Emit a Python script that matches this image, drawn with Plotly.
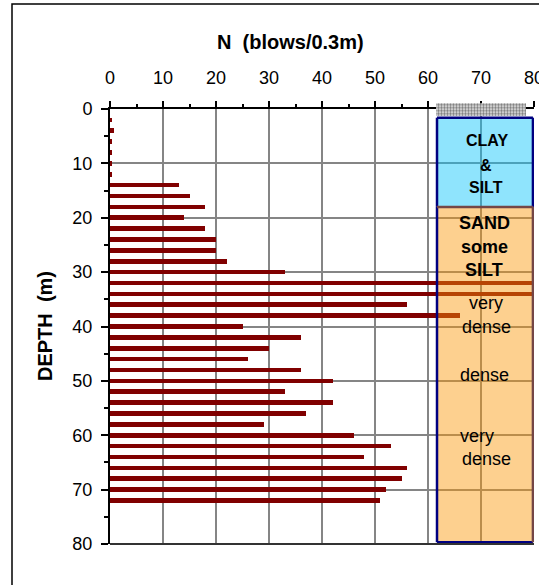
import plotly.graph_objects as go

# SPT blow counts vs depth
depths = [2, 4, 6, 8, 10, 12, 14, 16, 18, 20, 22, 24, 26, 28, 30, 32, 34, 36,
          38, 40, 42, 44, 46, 48, 50, 52, 54, 56, 58, 60, 62, 64, 66, 68, 70, 72]
n_values = [0.4, 0.8, 0.4, 0.4, 0.4, 0.4, 13, 15, 18, 14, 18, 20, 20, 22, 33, 100, 100, 56,
            66, 25, 36, 30, 26, 36, 42, 33, 42, 37, 29, 46, 53, 48, 56, 55, 52, 51]
x_ticks = [0, 10, 20, 30, 40, 50, 60, 70, 80]
y_ticks = [0, 10, 20, 30, 40, 50, 60, 70, 80]

# Soil profile column (depth ranges in m)
clay_top, clay_bottom = 1.6, 18
sand_top, sand_bottom = 18, 79.7
col_left, col_right = 61.7, 79.8
hatch_left, hatch_right = 61.5, 78.5

# Page geometry (pixels)
W, H = 539, 585
ML, MR, MT, MB = 110, 5, 100, 41
PH = H - MT - MB          # paper height
PW = W - ML - MR


def py(pix):
    """pixel row -> paper y"""
    return (H - MB - pix) / PH


def px(pix):
    """pixel column -> paper x"""
    return (pix - ML) / PW


FONT = "Arial, Liberation Sans, sans-serif"
NAVY = "#000080"
BROWN = "#744646"
GRID = "#858585"

fig = go.Figure()

fig.add_trace(go.Bar(
    x=n_values, y=depths, orientation="h", width=0.85,
    marker=dict(color="#800000", line_width=0),
    xaxis="x", yaxis="y", showlegend=False, hoverinfo="skip",
))

# hatched cap above the soil column
fig.add_trace(go.Bar(
    x=[hatch_right - hatch_left], base=[hatch_left], y=[0.5], width=1, orientation="h",
    marker=dict(color="#d9d9d9", line_width=0,
                pattern=dict(shape=".", size=3, solidity=0.5, fgcolor="#7a7a7a",
                             bgcolor="#e8e8e8", fillmode="replace")),
    xaxis="x2", yaxis="y2", showlegend=False, hoverinfo="skip",
))

shapes = [
    # soil layers (translucent so grid and bars show through)
    dict(type="rect", xref="x", yref="y", x0=col_left, x1=col_right, y0=clay_top, y1=clay_bottom,
         fillcolor="rgba(6,195,250,0.45)", line_width=0, layer="above"),
    dict(type="rect", xref="x", yref="y", x0=col_left, x1=col_right, y0=sand_top, y1=sand_bottom,
         fillcolor="rgba(251,150,6,0.45)", line_width=0, layer="above"),
    # clay box outline
    dict(type="line", xref="x", yref="y", x0=col_left, x1=col_left, y0=clay_top, y1=clay_bottom,
         line=dict(color=NAVY, width=2.5), layer="above"),
    dict(type="line", xref="x", yref="y", x0=col_left, x1=col_right, y0=clay_top, y1=clay_top,
         line=dict(color=NAVY, width=2.5), layer="above"),
    dict(type="line", xref="x", yref="y", x0=col_right, x1=col_right, y0=clay_top, y1=clay_bottom,
         line=dict(color=NAVY, width=2.5), layer="above"),
    # sand box outline
    dict(type="line", xref="x", yref="y", x0=col_left, x1=col_left, y0=sand_top, y1=sand_bottom,
         line=dict(color=NAVY, width=2.5), layer="above"),
    dict(type="line", xref="x", yref="y", x0=col_left, x1=col_right, y0=sand_bottom, y1=sand_bottom,
         line=dict(color=NAVY, width=2.5), layer="above"),
    dict(type="line", xref="x", yref="y", x0=col_left, x1=col_right, y0=sand_top, y1=sand_top,
         line=dict(color=BROWN, width=2.5), layer="above"),
    dict(type="line", xref="x", yref="y", x0=col_right, x1=col_right, y0=sand_top, y1=sand_bottom,
         line=dict(color=BROWN, width=2.5), layer="above"),
    # bottom edge of plot area
    dict(type="line", xref="paper", yref="paper", x0=0, x1=1, y0=0, y1=0,
         line=dict(color="#333333", width=2), layer="above"),
    # outer chart frame
    dict(type="rect", xref="paper", yref="paper", x0=px(12), x1=px(600), y0=py(650), y1=py(4),
         line=dict(color="black", width=1.5), fillcolor="rgba(0,0,0,0)", layer="above"),
]

annotations = [
    dict(text="<b>N\u00a0 (blows/0.3m)</b>", xref="paper", yref="paper", x=px(290), y=py(42),
         showarrow=False, font=dict(family=FONT, size=20, color="black"),
         xanchor="center", yanchor="middle"),
    dict(text="<b>DEPTH\u00a0 (m)</b>", xref="paper", yref="paper", x=px(45), y=py(326),
         showarrow=False, textangle=-90, font=dict(family=FONT, size=20, color="black"),
         xanchor="center", yanchor="middle"),
]

# soil description labels: (text, x, depth, size, bold)
soil_labels = [
    ("CLAY", 71.1, 5.8, 16, True), ("&", 71.0, 10.3, 16, True), ("SILT", 71.0, 14.4, 16, True),
    ("SAND", 70.7, 20.9, 18, True), ("some", 70.6, 25.4, 18, True), ("SILT", 70.6, 29.7, 18, True),
    ("very", 71.0, 35.7, 18, False), ("dense", 71.0, 40.0, 18, False),
    ("dense", 70.6, 48.9, 18, False),
    ("very", 69.3, 60.2, 18, False), ("dense", 71.0, 64.3, 18, False),
]
for txt, xv, dv, sz, bold in soil_labels:
    annotations.append(dict(
        text=f"<b>{txt}</b>" if bold else txt, xref="x", yref="y", x=xv, y=dv,
        showarrow=False, font=dict(family=FONT, size=sz, color="black"),
        xanchor="center", yanchor="middle"))

fig.update_layout(
    width=W, height=H,
    margin=dict(l=ML, r=MR, t=MT, b=MB, pad=0, autoexpand=False),
    paper_bgcolor="white", plot_bgcolor="rgba(0,0,0,0)",
    showlegend=False, bargap=0,
    font=dict(family=FONT, color="black"),
    xaxis=dict(
        domain=[0, 1], range=[0, 80], side="top", anchor="y", automargin=False,
        tickmode="array", tickvals=x_ticks, ticktext=[str(v) for v in x_ticks],
        showgrid=True, gridcolor=GRID, gridwidth=1.5, zeroline=False,
        showline=True, linecolor="black", linewidth=1.5,
        ticks="outside", ticklen=6, tickwidth=1.5, tickcolor="black",
        minor=dict(dtick=5, tick0=0, ticks="outside", ticklen=3.5, tickwidth=1.5,
                   tickcolor="black", showgrid=False),
        tickfont=dict(family=FONT, size=18, color="black"),
        ticklabelstandoff=10, ticklabeloverflow="allow",
    ),
    yaxis=dict(
        domain=[0, py(109)], range=[80, 0], anchor="x", automargin=False,
        tickmode="array", tickvals=y_ticks, ticktext=[str(v) for v in y_ticks],
        showgrid=True, gridcolor=GRID, gridwidth=1.5, zeroline=False,
        showline=True, linecolor="black", linewidth=2,
        ticks="outside", ticklen=7, tickwidth=1.5, tickcolor="black",
        minor=dict(dtick=5, tick0=0, ticks="outside", ticklen=4, tickwidth=1.5,
                   tickcolor="black", showgrid=False),
        tickfont=dict(family=FONT, size=18, color="black"),
        ticklabelstandoff=5, ticklabeloverflow="allow",
    ),
    xaxis2=dict(domain=[0, 1], range=[0, 80], anchor="y2", visible=False, fixedrange=True,
                automargin=False),
    yaxis2=dict(domain=[py(116.7), py(103.3)], range=[0, 1], anchor="x2", visible=False,
                fixedrange=True, automargin=False),
    shapes=shapes,
    annotations=annotations,
)

fig.write_html("out.html")
